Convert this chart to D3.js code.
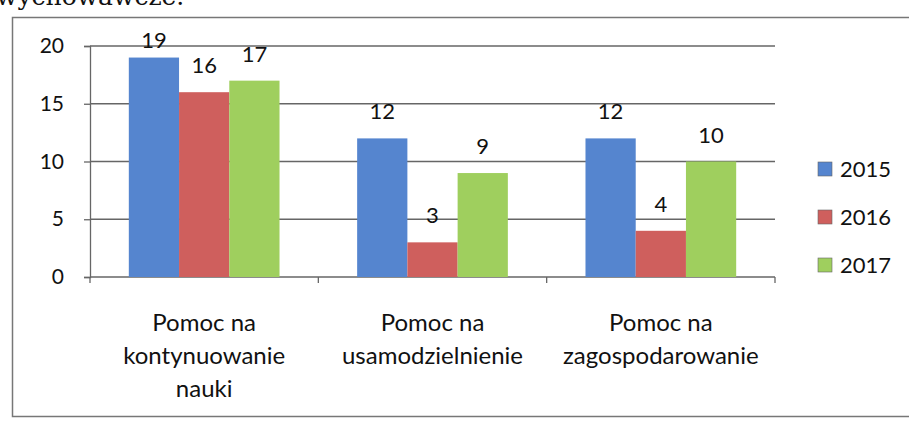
<!doctype html>
<html lang="pl">
<head>
  <meta charset="utf-8">
  <script src="https://d3js.org/d3.v7.min.js"></script>
  <style>
    body { margin: 0; background: #fff; }
    svg { display: block; }
    text { font-family: Lato, "Open Sans", sans-serif; fill: #111; }
  </style>
</head>
<body>
  <div id="container"></div>
  <script>
    // data
    var categories = [
      ["Pomoc na", "kontynuowanie", "nauki"],
      ["Pomoc na", "usamodzielnienie"],
      ["Pomoc na", "zagospodarowanie"]
    ];
    var years = ["2015", "2016", "2017"];
    var values2015 = [19, 12, 12];
    var values2016 = [16, 3, 4];
    var values2017 = [17, 9, 10];
    var yTicks = [0, 5, 10, 15, 20];
    var colors = ["#5585cf", "#cf5f5d", "#9fcf5e"];

    var series = [values2015, values2016, values2017];

    var W = 909, H = 423;
    var margin = { top: 46, left: 90, right: 134, bottom: 146 };
    var width = W - margin.left - margin.right,
        height = H - margin.top - margin.bottom;

    var svg = d3.select("#container").append("svg")
        .attr("width", W)
        .attr("height", H);

    // cut-off line of page text above the chart (scan edge)
    svg.append("text")
        .attr("x", -4).attr("y", 5)
        .style("font-family", "'DejaVu Serif', serif")
        .style("font-size", "25px")
        .text("wychowawcze.");

    // chart frame
    svg.append("rect")
        .attr("x", 12.5).attr("y", 17.5)
        .attr("width", W + 10).attr("height", 399)
        .attr("fill", "none")
        .attr("stroke", "#777")
        .attr("stroke-width", 1.5);

    var g = svg.append("g")
        .attr("transform", "translate(" + margin.left + "," + margin.top + ")");

    var x0 = d3.scaleBand()
        .domain(d3.range(categories.length))
        .range([0, width])
        .paddingInner(0.34)
        .paddingOuter(0.17);

    var x1 = d3.scaleBand()
        .domain(d3.range(years.length))
        .range([0, x0.bandwidth()]);

    var y = d3.scaleLinear()
        .domain([0, 20])
        .range([height, 0]);

    // gridlines
    g.append("g")
        .selectAll("line")
        .data(yTicks.filter(function(d) { return d > 0; }))
        .enter().append("line")
        .attr("x1", 0).attr("x2", width)
        .attr("y1", function(d) { return y(d); })
        .attr("y2", function(d) { return y(d); })
        .attr("stroke", "#666")
        .attr("stroke-width", 1.3);

    // y axis
    var yAxis = g.append("g")
        .call(d3.axisLeft(y).tickValues(yTicks).tickSize(6).tickPadding(20));
    yAxis.select(".domain").attr("stroke", "#666").attr("stroke-width", 1.3);
    yAxis.selectAll(".tick line").attr("stroke", "#666").attr("stroke-width", 1.3);
    yAxis.selectAll("text")
        .style("font-family", "Lato, sans-serif")
        .style("font-size", "21px")
        .attr("fill", "#111");

    // x axis baseline with category ticks
    var step = width / categories.length;
    var xAxis = g.append("g").attr("transform", "translate(0," + height + ")");
    xAxis.append("line")
        .attr("x1", 0).attr("x2", width)
        .attr("stroke", "#666").attr("stroke-width", 1.3);
    xAxis.selectAll(".xt")
        .data(d3.range(categories.length + 1))
        .enter().append("line")
        .attr("x1", function(d) { return d * step; })
        .attr("x2", function(d) { return d * step; })
        .attr("y1", 0).attr("y2", 6)
        .attr("stroke", "#666").attr("stroke-width", 1.3);

    // bars
    var groups = g.selectAll(".grp")
        .data(categories)
        .enter().append("g")
        .attr("transform", function(d, i) { return "translate(" + x0(i) + ",0)"; });

    groups.selectAll("rect")
        .data(function(d, i) { return series.map(function(s, j) { return { s: j, v: s[i] }; }); })
        .enter().append("rect")
        .attr("x", function(d) { return x1(d.s); })
        .attr("width", x1.bandwidth())
        .attr("y", function(d) { return y(d.v); })
        .attr("height", function(d) { return height - y(d.v); })
        .attr("fill", function(d) { return colors[d.s]; });

    groups.selectAll(".lbl")
        .data(function(d, i) { return series.map(function(s, j) { return { s: j, v: s[i] }; }); })
        .enter().append("text")
        .attr("x", function(d) { return x1(d.s) + x1.bandwidth() / 2; })
        .attr("y", function(d) { return Math.max(y(d.v) - 19, 2); })
        .attr("text-anchor", "middle")
        .style("font-size", "22px")
        .text(function(d) { return d.v; });

    // category labels
    g.selectAll(".cat")
        .data(categories)
        .enter().append("text")
        .attr("text-anchor", "middle")
        .attr("transform", function(d, i) {
            return "translate(" + (x0(i) + x0.bandwidth() / 2) + "," + (height + 54) + ")";
        })
        .style("font-size", "24px")
        .selectAll("tspan")
        .data(function(d) { return d; })
        .enter().append("tspan")
        .attr("x", 0)
        .attr("dy", function(d, i) { return i === 0 ? 0 : 33; })
        .text(function(d) { return d; });

    // legend
    var legend = svg.append("g")
        .attr("transform", "translate(818,169)");
    var item = legend.selectAll("g")
        .data(years)
        .enter().append("g")
        .attr("transform", function(d, i) { return "translate(0," + (i * 48) + ")"; });
    item.append("rect")
        .attr("x", 0).attr("y", -7)
        .attr("width", 14).attr("height", 14)
        .attr("fill", function(d, i) { return colors[i]; })
        .attr("stroke", "#666").attr("stroke-width", 0.6);
    item.append("text")
        .attr("x", 22).attr("y", 0)
        .attr("dy", "0.36em")
        .style("font-size", "22px")
        .text(function(d) { return d; });
  </script>
</body>
</html>
